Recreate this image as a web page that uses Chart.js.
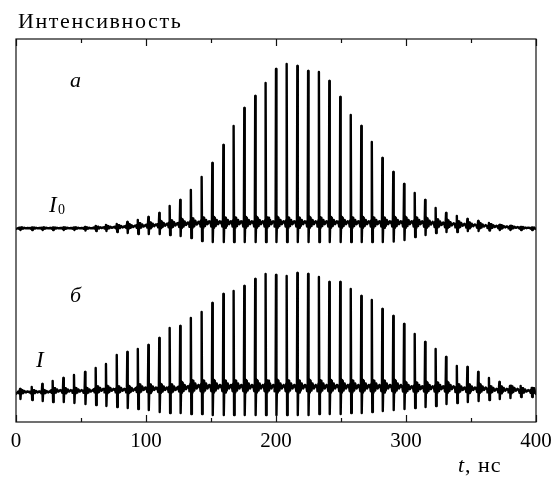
<!DOCTYPE html>
<html><head><meta charset="utf-8">
<script src="https://cdn.jsdelivr.net/npm/chart.js@4/dist/chart.umd.min.js"></script>
<style>html,body{margin:0;padding:0;background:#fff}#wrap{width:560px;height:483px}</style>
</head><body><div id="wrap"><canvas id="c" width="560" height="483"></canvas></div>
<script>
// pulse arrival times, ns
const pulseTimes = [3.1,12.1,20.2,28.2,36.4,44.6,53.1,61.3,69.2,77.5,85.6,93.7,101.8,110.2,118.2,126.3,134.5,142.8,151.0,159.5,167.4,175.6,184.0,192.0,200.0,208.2,216.4,224.7,233.0,241.0,249.4,257.5,265.6,273.7,281.8,290.2,298.5,306.7,314.7,322.8,330.8,339.1,347.2,355.5,363.8,371.8,380.0,388.2,396.7];
// trace a (I0): pulse peak above baseline, dip below baseline, ripple amplitude
const topPeaks = [1,1,1,1,1.5,1.5,2,3,4,5,7,9,12,16,23,29,39,52,66,84,103,121,133,146,160,165,163,158,157,148,132,114,103,87,71,57,45,36,29,21,16,13,10,8,6,4,3,2,1];
const topDips = [1,1,1,1,1,1,1.5,2,2,3,4,5,5,5,6,7,9,12,13,13,13,13,13,13,13,13,13,13,13,13,13,13,13,13,13,12.5,11,8,6,4,3,3,2,2,1.5,1,1,1,1];
const topRipple = [0.8,0.8,0.8,0.8,0.8,0.8,0.8,1.2,1.5,2,2.5,3,3.5,4,4.5,5,5.5,6,6,6,6,6,6,6,6,6,6,6,6,6,6,6,6,6,6,6,6,6,5.5,5,4.5,4,3.5,3,2.5,2,1.5,1,0.8];
// trace б (I)
const bottomPeaks = [5,7,10,13,16,19,22,26,30,39,42,45,49,56,66,68,76,82,91,100,103,108,115,120,119,118,121,120,117,112,112,105,98,94,85,78,70,60,52,45,37,28,27,22,16,12,8,8,6];
const bottomDips = [5,6,7,8,8,9,10,11,12,13,14,15,16,18,19,19,20,20,21,21,21,21,21,21,21,21,21,21,20,20,20,19,19,18,17,16,15,14,13,12,10,9,8,7,6,5,4,3,3];
const bottomRipple = [2,2,2,3,3,3,3,4,4,4,4,5,5,5,5,6,7,7,7,7,7,7,7,7,7,7,7,7,7,7,7,7,7,7,7,7,6,6,6,6,6,5,5,5,4,4,4,3,3];
// ripple waveform around each pulse: [time offset ns, relative amplitude]
const rippleBefore = [[-1.4,0.2],[-0.8,-0.6],[-0.3,0.5]];
const rippleAfter = [[0.8,1.0],[1.3,-0.8],[1.9,0.9],[2.6,-0.5],[3.4,0.5],[4.5,-0.2],[5.8,0.3],[7.0,-0.1]];
const xTickValues = [0,100,200,300,400];
const xTickLabels = ['0','100','200','300','400'];
const xMinorTicks = [50,150,250,350];
const topBaseline = 193, bottomBaseline = 28;

function buildTrace(base, peaks, dips, ripple) {
  const pts = [{x:0, y:base}];
  pulseTimes.forEach((t, i) => {
    const r = ripple[i], lvl = base + r;
    rippleBefore.forEach(([dt, a]) => pts.push({x:t+dt, y:lvl + a*r}));
    pts.push({x:t, y:base + peaks[i]});
    pts.push({x:t+0.35, y:base - dips[i]});
    rippleAfter.forEach(([dt, a]) => pts.push({x:t+dt, y:lvl + a*r}));
  });
  pts.push({x:400, y:base});
  return pts.filter(p => p.x >= 0 && p.x <= 400);
}

const F = '"Liberation Serif"';
const decor = {
  id: 'decor',
  afterDraw(chart) {
    const {ctx, chartArea: a, scales: {x}} = chart;
    ctx.save();
    ctx.strokeStyle = '#111'; ctx.lineWidth = 1.2;
    ctx.strokeRect(a.left, a.top, a.right - a.left, a.bottom - a.top);
    ctx.beginPath();
    xTickValues.forEach(v => { const px = Math.round(x.getPixelForValue(v)) + 0.5;
      ctx.moveTo(px, a.bottom); ctx.lineTo(px, a.bottom - 7);
      ctx.moveTo(px, a.top); ctx.lineTo(px, a.top + 7); });
    xMinorTicks.forEach(v => { const px = Math.round(x.getPixelForValue(v)) + 0.5;
      ctx.moveTo(px, a.bottom); ctx.lineTo(px, a.bottom - 4);
      ctx.moveTo(px, a.top); ctx.lineTo(px, a.top + 4); });
    ctx.stroke();
    ctx.fillStyle = '#000';
    ctx.font = '21px ' + F; ctx.textAlign = 'center'; ctx.textBaseline = 'alphabetic';
    xTickValues.forEach((v, i) => ctx.fillText(xTickLabels[i], x.getPixelForValue(v), a.bottom + 25));
    ctx.textAlign = 'left';
    ctx.font = '22px ' + F;
    ctx.letterSpacing = '1.6px';
    ctx.fillText('Интенсивность', 18, 28);
    ctx.letterSpacing = '1px';
    ctx.font = 'italic 22px ' + F;
    ctx.fillText('t', 458, 472);
    ctx.font = '22px ' + F;
    ctx.fillText(', нс', 465, 472);
    ctx.letterSpacing = '0px';
    ctx.font = 'italic 22px ' + F;
    ctx.fillText('а', 70, 87);
    ctx.fillText('б', 70, 302);
    ctx.font = 'italic 23px ' + F;
    ctx.fillText('I', 49, 212);
    ctx.fillText('I', 36, 367);
    ctx.font = '14px ' + F;
    ctx.fillText('0', 58, 214);
    ctx.restore();
  }
};

new Chart(document.getElementById('c'), {
  type: 'line',
  data: { datasets: [
    { label: 'I0', data: buildTrace(topBaseline, topPeaks, topDips, topRipple) },
    { label: 'I', data: buildTrace(bottomBaseline, bottomPeaks, bottomDips, bottomRipple) }
  ]},
  options: {
    responsive: false, animation: false, devicePixelRatio: 1,
    layout: { padding: { left: 16, right: 24, top: 39, bottom: 61 } },
    elements: { point: { radius: 0 }, line: { borderColor: '#000', borderWidth: 2.4, tension: 0, borderJoinStyle: 'round', borderCapStyle: 'round' } },
    scales: {
      x: { type: 'linear', min: 0, max: 400, display: false },
      y: { type: 'linear', min: 0, max: 383, display: false }
    },
    plugins: { legend: { display: false }, tooltip: { enabled: false }, title: { display: false } }
  },
  plugins: [decor]
});
</script></body></html>
